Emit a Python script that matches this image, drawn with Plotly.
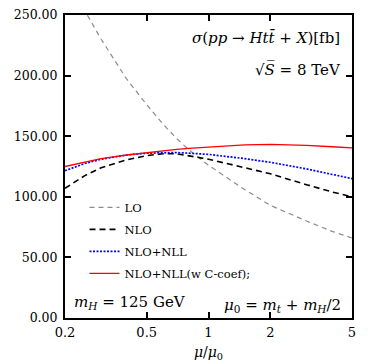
import plotly.graph_objects as go

mu = [0.2, 0.25, 0.3, 0.4, 0.5, 0.6, 0.7, 0.8, 1.0, 1.5, 2.0, 3.0, 4.0, 5.0]
lo = [282, 254, 230, 197, 176, 160, 148, 139, 126, 106, 93, 80, 71.5, 66]
nlo = [107, 117.5, 124, 130.5, 134, 135.5, 135.5, 134, 131, 124, 119, 110, 104, 100]
nlo_nll = [121.5, 127.5, 131, 134.5, 136, 136.5, 136.5, 136, 135, 131.5, 128.5, 123, 118.5, 115]
nlo_nll_c = [125, 128.5, 131.5, 134.5, 136.5, 138, 139.2, 140, 141, 142.8, 143.2, 142.5, 141.3, 140.3]

x_ticks = [0.2, 0.5, 1, 2, 5]
x_ticktext = ["0.2", "0.5", "1", "2", "5"]
y_ticks = [0, 50, 100, 150, 200, 250]

FONT = "DejaVu Serif"

fig = go.Figure()
fig.add_trace(go.Scatter(x=mu, y=lo, mode="lines", name="LO", legendgroup="a",
                         line=dict(color="#8c8c8c", width=1.2, dash="5px,4px")))
fig.add_trace(go.Scatter(x=mu, y=nlo, mode="lines", name="NLO", legendgroup="b",
                         line=dict(color="black", width=1.6, dash="6px,4px")))
fig.add_trace(go.Scatter(x=mu, y=nlo_nll, mode="lines", name="NLO+NLL", legendgroup="c",
                         line=dict(color="#0000ff", width=1.7, dash="2px,1.5px")))
fig.add_trace(go.Scatter(x=mu, y=nlo_nll_c, mode="lines", name="NLO+NLL(w C-coef);", legendgroup="d",
                         line=dict(color="#ff0000", width=1.3)))

axis_common = dict(showline=True, linecolor="black", linewidth=2, mirror="ticks",
                   ticks="inside", ticklen=6, tickwidth=1.5, tickcolor="black",
                   showgrid=False, zeroline=False, automargin=False)

fig.update_xaxes(type="log", range=[-0.69897, 0.69897], tickvals=x_ticks, ticktext=x_ticktext,
                 ticklabelstandoff=1,
                 tickfont=dict(family=FONT, size=13, color="black"),
                 title=dict(text="<i>μ</i>/<i>μ</i><sub>0</sub>", font=dict(family=FONT, size=14, color="black"),
                            standoff=9),
                 **axis_common)
fig.update_yaxes(range=[0, 250], tickvals=y_ticks, tickformat=".2f", ticklabelstandoff=3,
                 tickfont=dict(family=FONT, size=12.5, color="black"), **axis_common)

ann_font = dict(family=FONT, size=15, color="black")
fig.add_annotation(xref="paper", yref="paper", x=0.965, y=0.925, xanchor="right", yanchor="middle",
                   text="<i>σ</i>(<i>pp</i> → <i>Ht</i><i>t̄</i> + <i>X</i>)[fb]", showarrow=False, font=ann_font)
fig.add_annotation(xref="paper", yref="paper", x=0.97, y=0.82, xanchor="right", yanchor="middle",
                   text="√<i>S̅</i> = 8 TeV", showarrow=False, font=ann_font)
fig.add_annotation(xref="paper", yref="paper", x=0.025, y=0.05, xanchor="left", yanchor="middle",
                   text="<i>m<sub>H</sub></i> = 125 GeV", showarrow=False, font=ann_font)
fig.add_annotation(xref="paper", yref="paper", x=0.97, y=0.04, xanchor="right", yanchor="middle",
                   text="<i>μ</i><sub>0</sub> = <i>m<sub>t</sub></i> + <i>m<sub>H</sub></i>/2", showarrow=False, font=ann_font)

fig.update_layout(
    width=374, height=363,
    margin=dict(l=65, r=22, t=15, b=45),
    paper_bgcolor="white", plot_bgcolor="white",
    showlegend=True,
    legend=dict(x=0.068, y=0.413, xanchor="left", yanchor="top", bgcolor="rgba(0,0,0,0)",
                font=dict(family=FONT, size=11.5, color="black"), tracegroupgap=3),
)

fig.write_html("out.html", config={"displayModeBar": False},
               post_script="document.body.style.margin='0';")
